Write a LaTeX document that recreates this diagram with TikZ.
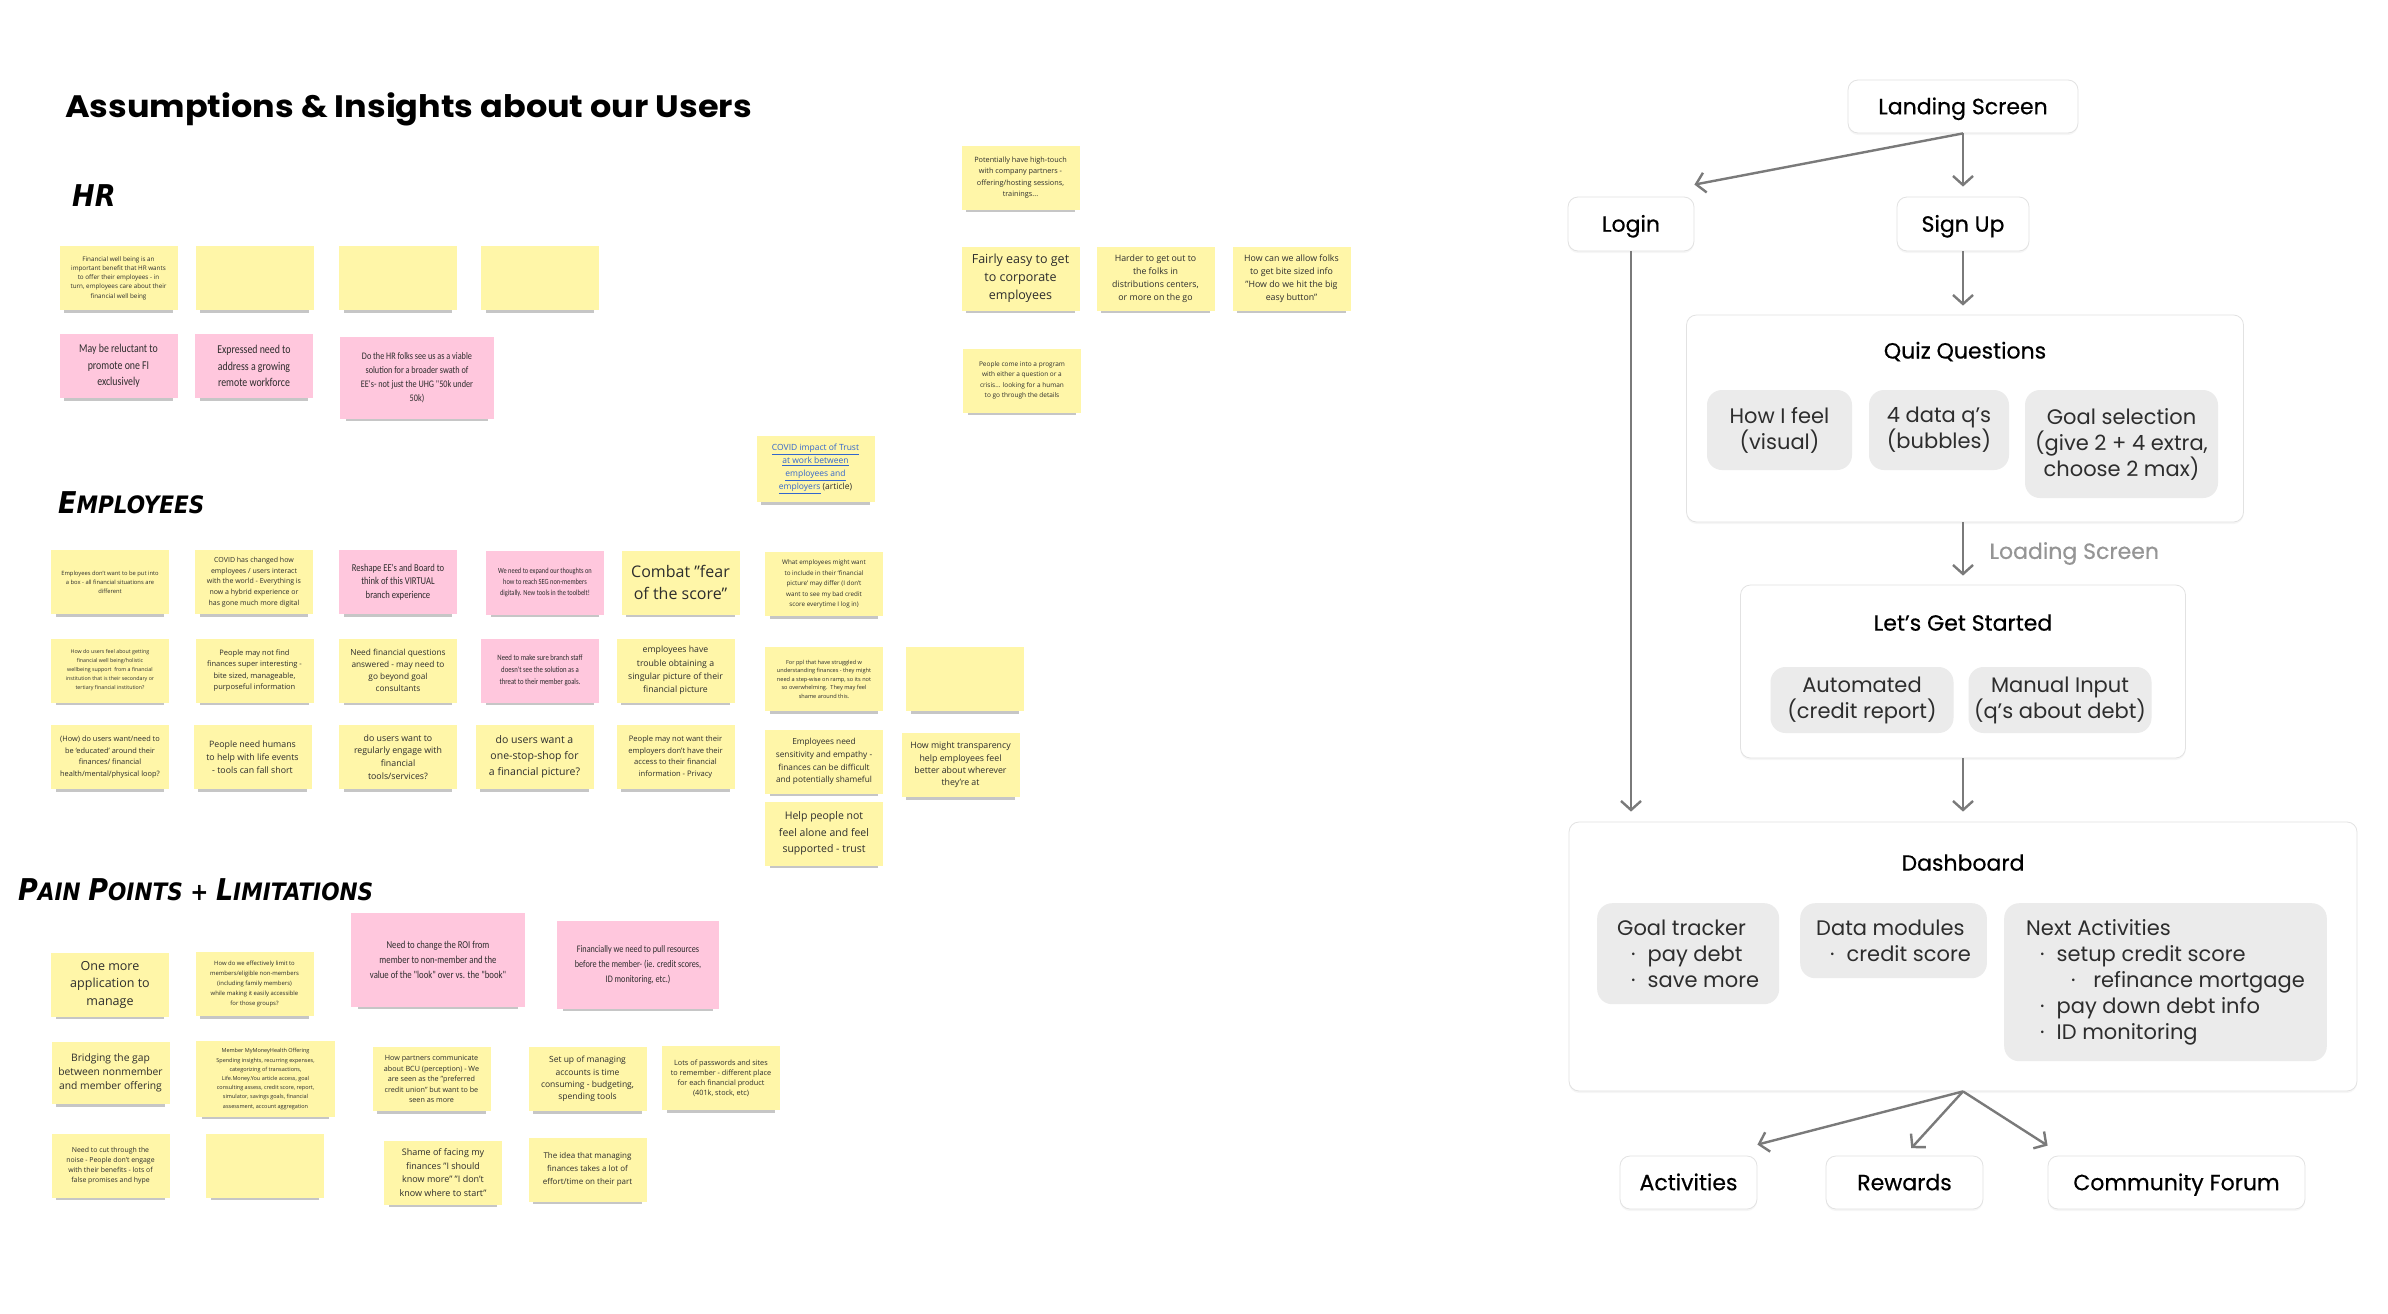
\documentclass[tikz,border=0pt]{standalone}
\usepackage{fontspec}
\setmainfont{Open Sans}
\newfontfamily\flowfont{Poppins}
\newfontfamily\flowmed[FakeBold=0.5]{Poppins}
\newfontfamily\titlefont[FakeStretch=1.08]{Poppins}
\newfontfamily\handfont[FakeStretch=0.82]{Carlito}
\newfontfamily\markfont[FakeStretch=0.9]{DejaVu Sans}
\usetikzlibrary{arrows.meta,positioning,shadows}
\definecolor{ylw}{RGB}{255,246,168}
\definecolor{pnk}{RGB}{255,199,221}
\definecolor{ink}{RGB}{45,45,45}
\definecolor{lnk}{RGB}{51,102,204}
\definecolor{arrgray}{RGB}{122,122,122}
\definecolor{boxgray}{RGB}{235,235,235}
\definecolor{edge}{RGB}{226,226,226}
\newcommand\fsz[2]{\fontsize{#1}{#2}\selectfont}
\newcommand\msc[2]{{\fsz{30}{30}#1}{\fsz{24}{24}#2}}
\newcommand\bul[1][14pt]{\hspace*{#1}\textperiodcentered\hspace{12pt}}

\begin{document}
\begin{tikzpicture}[x=1pt, y=-1pt,
  note/.style 2 args={fill=ylw, text=ink, font=\fsz{#1}{#2}, minimum width=118pt,
              minimum height=64pt, inner sep=1pt, align=center,
              drop shadow={shadow xshift=0pt, shadow yshift=-6pt, shadow scale=0.92,
                           opacity=0.28, fill=black!80}},
  pnote/.style 2 args={note={#1}{#2}, fill=pnk, font=\handfont\fsz{#1}{#2}},
  head/.style={anchor=base west, inner sep=0pt, text=black,
               font=\markfont\bfseries\itshape\fsz{24}{24}},
  fbox/.style={draw=edge, fill=white, line width=0.8pt, rounded corners=10pt, text=black,
               font=\flowmed\fsz{22}{26}, text height=20pt, text depth=4.6pt,
               drop shadow={shadow xshift=0pt, shadow yshift=-2pt, opacity=0.07}},
  ttl/.style={text=black, font=\flowmed\fsz{22}{26}},
  gbox/.style={fill=boxgray, rounded corners=15pt, text=ink, font=\flowfont\fsz{21}{26},
               align=center, inner sep=0pt},
  lbox/.style={gbox, align=left, anchor=north west, inner xsep=20pt, inner ysep=0pt},
  arr/.style={draw=arrgray, line width=2.4pt, -{Straight Barb[length=9pt, width=20pt]}},
  lbl/.style={text=arrgray!80, font=\flowmed\fsz{22}{26}}]
  \fill[white] (0,0) rectangle (2388,1314);
  \useasboundingbox (0,0) rectangle (2388,1314);

  \node[anchor=base west, inner sep=0pt, font=\titlefont\bfseries\fsz{31}{33}] (title) at (65,117)
       {Assumptions \& Insights about our Users};
  \node[head] (hrhead) at (72,206) {\fsz{30}{30}HR};
  \node[head] (eehead) at (58,513) {\msc{E}{MPLOYEES}};
  \node[head] (painhead) at (18,900)
       {\msc{P}{AIN} \msc{P}{OINTS} + \msc{L}{IMITATIONS}};

  % HR
  \node[note={6.3}{9.3}] (hr1) at (118.5,278) {Financial well being is an\\important benefit that HR wants\\to offer their employees - in\\turn, employees care about their\\financial well being};
  \node[note={7}{9}] (hr2) at (254.5,278) {};
  \node[note={7}{9}] (hr3) at (398,278) {};
  \node[note={7}{9}] (hr4) at (540,278) {};
  \node[pnote={12}{16.7}] (hrp1) at (118.5,366) {May be reluctant to\\promote one FI\\exclusively};
  \node[pnote={12}{16.7}] (hrp2) at (254,366) {Expressed need to\\address a growing\\remote workforce};
  \node[pnote={10}{14}, minimum width=154pt, minimum height=82pt] (hrp3) at (417,378)
       {Do the HR folks see us as a viable\\solution for a broader swath of\\EE's- not just the UHG "50k under\\50k)};
  \node[note={7.3}{11.3}] (hrr1) at (1020.5,177.5) {Potentially have high-touch\\with company partners -\\offering/hosting sessions,\\trainings...};
  \node[note={12.5}{18}] (hrr2) at (1020.5,278.5) {Fairly easy to get\\to corporate\\employees};
  \node[note={8.8}{13}] (hrr3) at (1155.5,278.5) {Harder to get out to\\the folks in\\distributions centers,\\or more on the go};
  \node[note={8.8}{13}] (hrr4) at (1291.5,278.5) {How can we allow folks\\to get bite sized info\\"How do we hit the big\\easy button"};
  \node[note={6.5}{10.5}] (hrr5) at (1022,380.5) {People come into a program\\with either a question or a\\crisis... looking for a human\\to go through the details};
  \node[note={8.5}{13}, minimum height=66pt] (covid) at (815.5,469)
       {{\color{lnk}\underline{COVID impact of Trust}}\\{\color{lnk}\underline{at work between}}\\{\color{lnk}\underline{employees and}}\\{\color{lnk}\underline{employers}} (article)};

  % Employees
  \node[note={5.8}{9}] (e1) at (110,582) {Employees don't want to be put into\\a box - all financial situations are\\different};
  \node[note={7}{10.7}] (e2) at (254,582) {COVID has changed how\\employees / users interact\\with the world - Everything is\\now a hybrid experience or\\has gone much more digital};
  \node[pnote={10.5}{13.3}] (e3) at (398,582) {Reshape EE's and Board to\\think of this VIRTUAL\\branch experience};
  \node[pnote={7.8}{11}] (e4) at (545,582.5) {We need to expand our thoughts on\\how to reach SEG non-members\\digitally. New tools in the toolbelt!};
  \node[note={16}{21.7}] (e5) at (680.5,582.5) {Combat "fear\\of the score"};
  \node[note={6.3}{10.4}] (e6) at (824,584) {What employees might want\\to include in their `financial\\picture' may differ (I don't\\want to see my bad credit\\score everytime I log in)};
  \node[note={5.3}{9}] (f1) at (110,670.5) {How do users feel about getting\\financial well being/holistic\\wellbeing support\ \ from a financial\\institution that is their secondary or\\tertiary financial institution?};
  \node[note={7.5}{11.2}] (f2) at (254.5,670.5) {People may not find\\finances super interesting -\\bite sized, manageable,\\purposeful information};
  \node[note={8.3}{12.2}] (f3) at (398,670.5) {Need financial questions\\answered - may need to\\go beyond goal\\consultants};
  \node[pnote={8.2}{12}] (f4) at (540,670.5) {Need to make sure branch staff\\doesn't see the solution as a\\threat to their member goals.};
  \node[note={8.7}{13.4}] (f5) at (675.5,670.5) {employees have\\trouble obtaining a\\singular picture of their\\financial picture};
  \node[note={5.6}{8.5}] (f6) at (824,679) {For ppl that have struggled w\\understanding finances - they might\\need a step-wise on ramp, so its not\\so overwhelming.\ \ They may feel\\shame around this.};
  \node[note={7}{9}] (f7) at (965,679) {};
  \node[note={7.4}{11.7}] (g1) at (110,757) {(How) do users want/need to\\be `educated' around their\\finances/ financial\\health/mental/physical loop?};
  \node[note={8.8}{12.8}] (g2) at (252.5,757) {People need humans\\to help with life events\\- tools can fall short};
  \node[note={8.8}{12.7}] (g3) at (398,757) {do users want to\\regularly engage with\\financial\\tools/services?};
  \node[note={10.5}{16.2}] (g4) at (534.5,757) {do users want a\\one-stop-shop for\\a financial picture?};
  \node[note={7.6}{11.4}] (g5) at (675.5,757) {People may not want their\\employers don't have their\\access to their financial\\information - Privacy};
  \node[note={8.3}{12.8}] (g6) at (824,761.5) {Employees need\\sensitivity and empathy -\\finances can be difficult\\and potentially shameful};
  \node[note={8.8}{12.2}] (g7) at (960.5,765) {How might transparency\\help employees feel\\better about wherever\\they're at};
  \node[note={10.5}{16.7}] (g8) at (824,833.5) {Help people not\\feel alone and feel\\supported - trust};

  % Pain points
  \node[note={12.5}{17.5}] (h1) at (110,984.5) {One more\\application to\\manage};
  \node[note={5.9}{10}] (h2) at (254.5,984) {How do we effectively limit to\\members/eligible non-members\\(including family members)\\while making it easily accessible\\for those groups?};
  \node[pnote={10.6}{15}, minimum width=174pt, minimum height=94pt] (h3) at (438,960)
       {Need to change the ROI from\\member to non-member and the\\value of the "look" over vs. the "book"};
  \node[pnote={10}{14.7}, minimum width=162pt, minimum height=88pt] (h4) at (638,965)
       {Financially we need to pull resources\\before the member- (ie. credit scores,\\ID monitoring, etc.)};
  \node[note={10.3}{14.2}, minimum height=62pt] (i1) at (110.5,1073) {Bridging the gap\\between nonmember\\and member offering};
  \node[note={5.5}{9.2}, minimum width=139pt, minimum height=76pt] (i2) at (265.5,1079) {Member MyMoneyHealth Offering\\Spending insights, recurring expenses,\\categorizing of transactions,\\Life.Money.You article access, goal\\consulting assess, credit score, report,\\simulator, savings goals, financial\\assessment, account aggregation};
  \node[note={7.2}{10.5}] (i3) at (431.5,1079) {How partners communicate\\about BCU (perception) - We\\are seen as the "preferred\\credit union" but want to be\\seen as more};
  \node[note={8.5}{12.4}] (i4) at (587.5,1079) {Set up of managing\\accounts is time\\consuming - budgeting,\\spending tools};
  \node[note={7.3}{10}] (i5) at (721,1078) {Lots of passwords and sites\\to remember - different place\\for each financial product\\(401k, stock, etc)};
  \node[note={6.9}{10.2}] (j1) at (110.5,1165.5) {Need to cut through the\\noise - People don't engage\\with their benefits - lots of\\false promises and hype};
  \node[note={7}{9}] (j2) at (265,1165.5) {};
  \node[note={9}{13.6}] (j3) at (443,1172.5) {Shame of facing my\\finances "I should\\know more" "I don't\\know where to start"};
  \node[note={8}{12.8}] (j4) at (587.5,1169.5) {The idea that managing\\finances takes a lot of\\effort/time on their part};

  % Flow
  \node[fbox, minimum width=230pt, minimum height=53pt] (land) at (1963,106.5) {Landing Screen};
  \node[fbox, minimum width=126pt, minimum height=54pt] (login) at (1631,224) {Login};
  \node[fbox, minimum width=132pt, minimum height=54pt] (signup) at (1963,224) {Sign Up};
  \node[fbox, minimum width=557pt, minimum height=207pt] (quiz) at (1965,418.5) {};
  \node[ttl] (quizt) at ([yshift=-37pt]quiz.north) {Quiz Questions};
  \node[gbox, minimum width=145pt, minimum height=80pt] (feel) at (1779.5,430) {How I feel\\(visual)};
  \node[gbox, minimum width=140pt, minimum height=80pt] (dataq) at (1939,430) {4 data q’s\\(bubbles)};
  \node[gbox, minimum width=193pt, minimum height=108pt] (goalsel) at (2121.5,444) {Goal selection\\(give 2 + 4 extra,\\choose 2 max)};
  \node[fbox, minimum width=445pt, minimum height=173pt] (lgs) at (1963,671.5) {};
  \node[ttl] (lgst) at ([yshift=-38pt]lgs.north) {Let’s Get Started};
  \node[gbox, minimum width=183pt, minimum height=66pt] (auto) at (1862,700) {Automated\\(credit report)};
  \node[gbox, minimum width=183pt, minimum height=66pt] (manual) at (2060,700) {Manual Input\\(q’s about debt)};
  \node[fbox, minimum width=788pt, minimum height=269pt] (dash) at (1963,956.5) {};
  \node[ttl] (dasht) at ([yshift=-41pt]dash.north) {Dashboard};
  \node[lbox, minimum height=101pt] (goaltr) at (1597,903)
       {Goal tracker\\\bul pay debt\\\bul save more};
  \node[lbox, inner xsep=16pt, minimum height=75pt] (datamod) at (1800,903)
       {Data modules\\\bul credit score};
  \node[lbox, inner xsep=22pt, minimum height=158pt] (nextact) at (2004,903)
       {Next Activities\\\bul setup credit score\\\bul[45pt] refinance mortgage\\\bul pay down debt info\\\bul ID monitoring};
  \node[fbox, minimum width=137pt, minimum height=53pt] (act) at (1688.5,1182.5) {Activities};
  \node[fbox, minimum width=157pt, minimum height=53pt] (rew) at (1904.5,1182.5) {Rewards};
  \node[fbox, minimum width=257pt, minimum height=53pt] (forum) at (2176.5,1182.5) {Community Forum};

  \draw[arr, shorten >=10pt] (land.south) -- (signup.north);
  \draw[arr] (land.south) -- ([yshift=12pt]login.north east);
  \draw[arr, shorten >=9pt] (signup.south) -- (signup.south |- quiz.north);
  \draw[arr, shorten >=9pt] (lgs.north |- quiz.south) -- (lgs.north)
        node[midway, right=22pt, lbl] (loadlbl) {Loading Screen};
  \draw[arr, shorten >=10pt] (lgs.south) -- (lgs.south |- dash.north);
  \draw[arr, shorten >=10pt] (login.south) -- (login.south |- dash.north);
  \draw[arr] (dash.south) -- ([yshift=11pt]act.north east);
  \draw[arr, shorten >=10pt] (dash.south) -- (rew.north);
  \draw[arr] (dash.south) -- ([yshift=10pt]forum.north west);
\end{tikzpicture}
\end{document}
